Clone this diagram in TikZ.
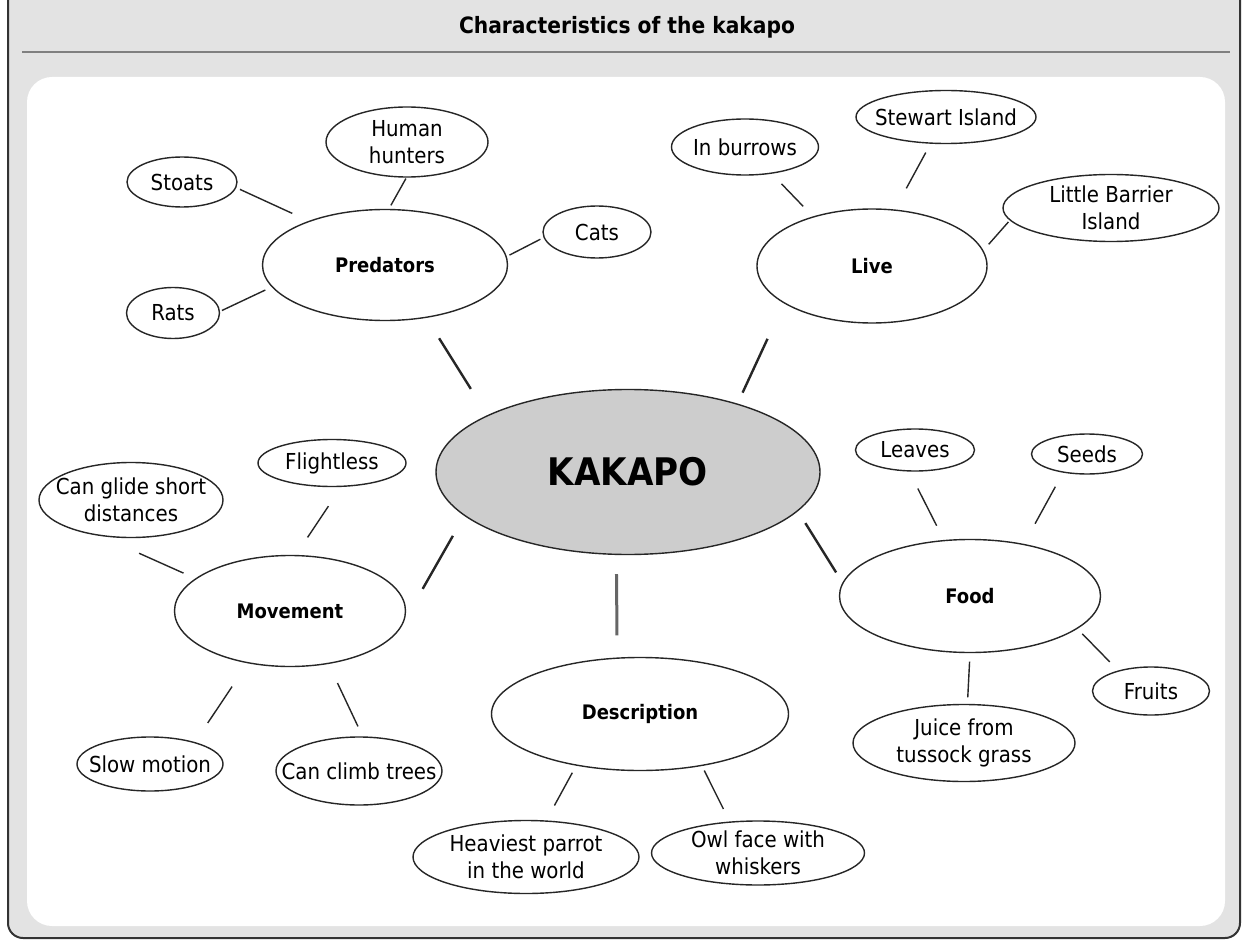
\documentclass[tikz,border=0pt]{standalone}
\usepackage{fontspec}
\setmainfont{DejaVu Sans Condensed}
\usetikzlibrary{shapes.geometric}
\definecolor{panelgray}{RGB}{227,227,227}
\definecolor{hubgray}{RGB}{205,205,205}

\begin{document}
\begin{tikzpicture}[x=1pt,y=-1pt,
	bub/.style 2 args={draw=black!85, line width=1.4pt, ellipse, inner xsep=-40pt, inner ysep=-10pt,
		minimum width=#1, minimum height=#2, align=center, font=\fontsize{22}{26.5}\selectfont},
	topic/.style 2 args={bub={#1}{#2}, font=\fontsize{20}{24}\selectfont\bfseries},
	hub/.style 2 args={bub={#1}{#2}, fill=hubgray, font=\fontsize{38}{44}\selectfont\bfseries},
	twig/.style={line width=1.4pt, black!85},
	branch/.style={line width=2.4pt, black!85}
	]
	\useasboundingbox (0,0) rectangle (1247,941);
	% frame and panel
	\draw[fill=panelgray, draw=black!80, line width=2pt, rounded corners=15] (8,-20) -- (8,938) -- (1240,938) -- (1240,-20);
	\draw[gray, line width=2pt] (22,52) -- (1230,52);
	\fill[white, rounded corners=25] (27,77) rectangle (1225,926);
	\node[font=\fontsize{22.5}{27}\selectfont\bfseries] (title) at (627,27) {Characteristics of the kakapo};
	
	\node[hub={384}{165}] (kakapo) at (628,472) {KAKAPO};
	\node[topic={245}{111}] (pred) at (385,265) {Predators};
	\node[topic={230}{114}] (live) at (872,266) {Live};
	\node[topic={231}{111}] (move) at (290,611) {Movement};
	\node[topic={261}{113}] (food) at (970,596) {Food};
	\node[topic={297}{113}] (desc) at (640,714) {Description};
	
	\node[bub={162}{70}] (hunters) at (407,142) {Human\\hunters};
	\node[bub={110}{50}] (stoats) at (182,182) {Stoats};
	\node[bub={108}{52}] (cats) at (597,232) {Cats};
	\node[bub={93}{51}] (rats) at (173,313) {Rats};
	\node[bub={147}{56}] (burrows) at (745,147) {In burrows};
	\node[bub={180}{53}] (stewart) at (946,117) {Stewart Island};
	\node[bub={216}{67}] (barrier) at (1111,208) {Little Barrier\\Island};
	\node[bub={148}{47}] (flight) at (332,463) {Flightless};
	\node[bub={184}{75}] (glide) at (131,500) {Can glide short\\distances};
	\node[bub={146}{54}] (slow) at (150,764) {Slow motion};
	\node[bub={166}{68}] (climb) at (359,771) {Can climb trees};
	\node[bub={119}{42}] (leaves) at (915,450) {Leaves};
	\node[bub={111}{40}] (seeds) at (1087,454) {Seeds};
	\node[bub={117}{48}] (fruits) at (1151,691) {Fruits};
	\node[bub={222}{77}] (juice) at (964,743) {Juice from\\tussock grass};
	\node[bub={226}{73}] (heavy) at (526,857) {Heaviest parrot\\in the world};
	\node[bub={213}{64}] (owl) at (758,853) {Owl face with\\whiskers};
	
	% hub to topics
	\draw[branch, shorten <=24, shorten >=31] (pred.-52) -- (kakapo.158);
	\draw[branch, shorten <=39, shorten >=12] (live.203) -- (kakapo.32);
	\draw[branch, shorten <=23, shorten >=37] (kakapo.195) -- (move.-5);
	\draw[branch, shorten <=14, shorten >=12] (kakapo.-13) -- (food.174);
	\draw[branch, black!60, line width=3pt, shorten <=19, shorten >=22] (kakapo.262) -- (desc.112);
	
	% topics to details
	\draw[twig, shorten <=4, shorten >=18] (stoats.-6) -- (pred.150);
	\draw[twig, shorten <=1, shorten >=4] (hunters.-91) -- (pred.86);
	\draw[twig, shorten <=3.5, shorten >=3] (cats.186) -- (pred.4);
	\draw[twig, shorten <=2, shorten >=7] (rats.2) -- (pred.191);
	\draw[twig, shorten <=14, shorten >=14] (burrows.-45) -- (live.140);
	\draw[twig, shorten <=10, shorten >=24] (stewart.-120) -- (live.68);
	\draw[twig, shorten <=2, shorten >=8] (barrier.187) -- (live.8);
	\draw[twig, shorten <=42, shorten >=13] (glide.230) -- (move.161);
	\draw[twig, shorten <=23, shorten >=21] (flight.-69) -- (move.84);
	\draw[twig, shorten <=23, shorten >=28] (slow.26) -- (move.231);
	\draw[twig, shorten <=11, shorten >=21] (climb.84) -- (move.-54);
	\draw[twig, shorten <=19, shorten >=16] (leaves.255) -- (food.115);
	\draw[twig, shorten <=16, shorten >=23] (seeds.218) -- (food.44);
	\draw[twig, shorten <=12, shorten >=7] (fruits.148) -- (food.-17);
	\draw[twig, shorten <=6.5, shorten >=8.5] (juice.85) -- (food.-90);
	\draw[twig, shorten <=17, shorten >=8] (heavy.61) -- (desc.219);
	\draw[twig, shorten <=14, shorten >=5] (owl.132) -- (desc.-40);
\end{tikzpicture}
\end{document}
